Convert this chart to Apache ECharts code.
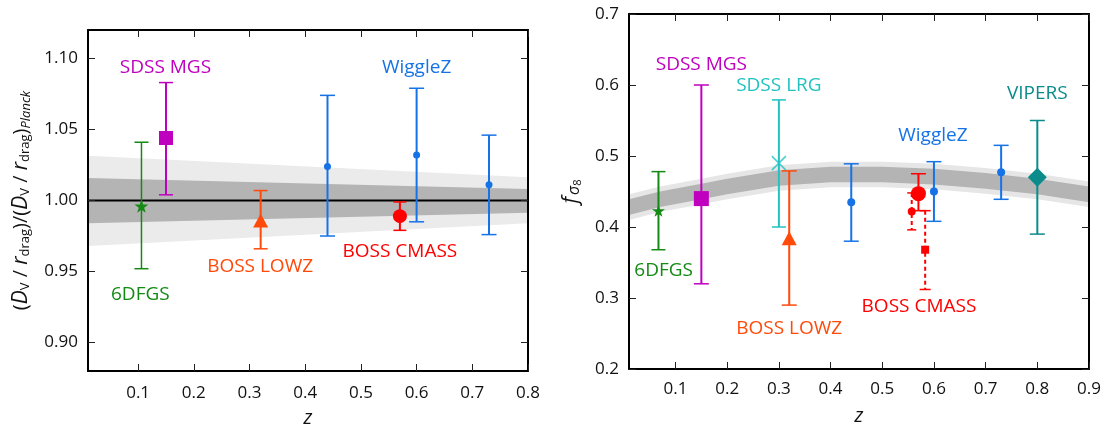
<!DOCTYPE html>
<html><head><meta charset="utf-8">
<script src="https://cdn.jsdelivr.net/npm/echarts@6/dist/echarts.min.js"></script>
<style>html,body{margin:0;padding:0;background:#fff}#c{width:1101px;height:426px}</style>
</head><body><div id="c"></div>
<script>
// ================= LEFT PANEL: BAO distance ratio =================
const baoKind  = ['6DFGS','SDSS MGS','BOSS LOWZ','WiggleZ','WiggleZ','WiggleZ','BOSS CMASS'];
const baoZ     = [0.106, 0.150, 0.320, 0.440, 0.600, 0.730, 0.570];
const baoVal   = [0.996, 1.044, 0.986, 1.024, 1.032, 1.011, 0.989];
const baoLow   = [0.952, 1.004, 0.966, 0.975, 0.985, 0.976, 0.979];
const baoHigh  = [1.041, 1.083, 1.007, 1.074, 1.079, 1.046, 0.999];
const baoBandZ    = [0.01, 0.80];
const baoLightHi  = [1.0315, 1.0163];
const baoLightLo  = [0.9680, 0.9840];
const baoDarkHi   = [1.0158, 1.0081];
const baoDarkLo   = [0.9840, 0.9914];
const baoRefZ  = [0.01, 0.80];
const baoRefY  = [1.00, 1.00];
const baoXTicks = [0.1, 0.2, 0.3, 0.4, 0.5, 0.6, 0.7, 0.8];
const baoYTicks = [0.90, 0.95, 1.00, 1.05, 1.10];
const baoLabels = ['SDSS MGS','WiggleZ','6DFGS','BOSS LOWZ','BOSS CMASS'];
const baoLabelZ = [0.149, 0.600, 0.104, 0.319, 0.570];
const baoLabelY = [1.0935, 1.0935, 0.9338, 0.9535, 0.9640];

// ================= RIGHT PANEL: f sigma8 =================
const rsdKind  = ['6DFGS','SDSS MGS','SDSS LRG','BOSS LOWZ','WiggleZ','WiggleZ','WiggleZ','VIPERS','BOSS CMASS','CMASS alt1','CMASS alt2'];
const rsdZ     = [0.067, 0.150, 0.300, 0.320, 0.440, 0.600, 0.730, 0.800, 0.570, 0.557, 0.583];
const rsdVal   = [0.423, 0.440, 0.490, 0.384, 0.435, 0.450, 0.477, 0.470, 0.447, 0.422, 0.368];
const rsdLow   = [0.368, 0.320, 0.400, 0.290, 0.380, 0.408, 0.439, 0.390, 0.423, 0.396, 0.312];
const rsdHigh  = [0.478, 0.600, 0.579, 0.479, 0.489, 0.492, 0.515, 0.550, 0.475, 0.448, 0.423];
const rsdBandZ   = [0.01, 0.07, 0.15, 0.20, 0.30, 0.40, 0.50, 0.60, 0.70, 0.80, 0.90];
const rsdLightHi = [0.446, 0.457, 0.468, 0.475, 0.487, 0.492, 0.492, 0.489, 0.483, 0.475, 0.464];
const rsdLightLo = [0.410, 0.421, 0.432, 0.439, 0.451, 0.456, 0.456, 0.453, 0.447, 0.439, 0.428];
const rsdDarkHi  = [0.439, 0.450, 0.461, 0.468, 0.480, 0.485, 0.485, 0.482, 0.476, 0.468, 0.457];
const rsdDarkLo  = [0.417, 0.428, 0.439, 0.446, 0.458, 0.463, 0.463, 0.460, 0.454, 0.446, 0.435];
const rsdXTicks = [0.1, 0.2, 0.3, 0.4, 0.5, 0.6, 0.7, 0.8, 0.9];
const rsdYTicks = [0.2, 0.3, 0.4, 0.5, 0.6, 0.7];
const rsdLabels = ['SDSS MGS','SDSS LRG','WiggleZ','VIPERS','6DFGS','BOSS LOWZ','BOSS CMASS'];
const rsdLabelZ = [0.150, 0.300, 0.598, 0.800, 0.077, 0.320, 0.571];
const rsdLabelY = [0.629, 0.599, 0.529, 0.588, 0.338, 0.257, 0.288];

// ================= styles =================
const FONT = 'Open Sans';
function starPath() {
  let d = '';
  for (let k = 0; k < 10; k++) {
    const r = k % 2 ? 0.382 : 1;
    const a = -Math.PI / 2 + k * Math.PI / 5;
    d += (k ? 'L' : 'M') + (10 + 10 * r * Math.cos(a)).toFixed(2) + ' ' + (10 + 10 * r * Math.sin(a)).toFixed(2) + ' ';
  }
  return 'path://' + d + 'Z';
}
const STAR = starPath();
const XMARK = 'path://M0 0L10 10M10 0L0 10';
const C = {
  '6DFGS': '#138a13', 'SDSS MGS': '#bf00bf', 'BOSS LOWZ': '#ff4a0a', 'WiggleZ': '#1673e6',
  'BOSS CMASS': '#ff0000', 'SDSS LRG': '#22c2c2', 'VIPERS': '#0b8b8b'
};
const baoStyle = {
  '6DFGS':      {color: C['6DFGS'], symbol: STAR, size: 14, lw: 1.5, cap: 14},
  'SDSS MGS':   {color: C['SDSS MGS'], symbol: 'rect', size: 14, lw: 2, cap: 14},
  'BOSS LOWZ':  {color: C['BOSS LOWZ'], symbol: 'triangle', size: [15, 14], lw: 2, cap: 14},
  'WiggleZ':    {color: C['WiggleZ'], symbol: 'circle', size: 7, lw: 2, cap: 15},
  'BOSS CMASS': {color: C['BOSS CMASS'], symbol: 'circle', size: 14, lw: 2, cap: 13}
};
const rsdStyle = {
  '6DFGS':      {color: C['6DFGS'], symbol: STAR, size: 13, lw: 2, cap: 14},
  'SDSS MGS':   {color: C['SDSS MGS'], symbol: 'rect', size: 15, lw: 2, cap: 15},
  'SDSS LRG':   {color: C['SDSS LRG'], symbol: XMARK, size: 14, lw: 2, cap: 14, stroke: true},
  'BOSS LOWZ':  {color: C['BOSS LOWZ'], symbol: 'triangle', size: [15, 14], lw: 2, cap: 15},
  'WiggleZ':    {color: C['WiggleZ'], symbol: 'circle', size: 8, lw: 2, cap: 15},
  'VIPERS':     {color: C['VIPERS'], symbol: 'diamond', size: 19, lw: 2, cap: 15},
  'BOSS CMASS': {color: C['BOSS CMASS'], symbol: 'circle', size: 15, lw: 2, cap: 15},
  'CMASS alt1': {color: C['BOSS CMASS'], symbol: 'circle', size: 8, lw: 2, cap: 9, dash: [4, 3]},
  'CMASS alt2': {color: C['BOSS CMASS'], symbol: 'rect', size: 8, lw: 2, cap: 11, dash: [4, 3]}
};

// ================= builders =================
function bandSeries(ai, zs, hi, lo, color, zz) {
  return {
    type: 'custom', xAxisIndex: ai, yAxisIndex: ai, clip: true, silent: true, z: zz,
    data: [[zs[0], hi[0]]],
    renderItem: (params, api) => {
      const pts = [];
      for (let k = 0; k < zs.length; k++) pts.push(api.coord([zs[k], hi[k]]));
      for (let k = zs.length - 1; k >= 0; k--) pts.push(api.coord([zs[k], lo[k]]));
      return {type: 'polygon', shape: {points: pts}, style: {fill: color}};
    }
  };
}
function errSeries(ai, zs, lo, hi, kinds, styles) {
  return {
    type: 'custom', xAxisIndex: ai, yAxisIndex: ai, clip: true, silent: true, z: 3,
    data: zs.map((z, i) => [z, lo[i], hi[i], i]),
    encode: {x: 0, y: [1, 2]},
    renderItem: (params, api) => {
      const st = styles[kinds[api.value(3)]];
      const t = api.coord([api.value(0), api.value(2)]);
      const b = api.coord([api.value(0), api.value(1)]);
      const h = st.cap / 2;
      const ls = {stroke: st.color, lineWidth: st.lw, fill: null, lineDash: st.dash || null};
      const cs = {stroke: st.color, lineWidth: 1.5, fill: null};
      return {type: 'group', children: [
        {type: 'line', shape: {x1: t[0], y1: t[1], x2: b[0], y2: b[1]}, style: ls},
        {type: 'line', shape: {x1: t[0] - h, y1: t[1], x2: t[0] + h, y2: t[1]}, style: cs},
        {type: 'line', shape: {x1: b[0] - h, y1: b[1], x2: b[0] + h, y2: b[1]}, style: cs}
      ]};
    }
  };
}
function markerSeries(ai, zs, vals, kinds, styles) {
  return zs.map((z, i) => {
    const st = styles[kinds[i]];
    return {
      type: 'scatter', xAxisIndex: ai, yAxisIndex: ai, z: 4, silent: true,
      symbol: st.symbol, symbolSize: st.size, symbolKeepAspect: true,
      itemStyle: st.stroke ? {color: 'rgba(0,0,0,0)', borderColor: st.color, borderWidth: 1.6} : {color: st.color, opacity: 1},
      data: [[z, vals[i]]]
    };
  });
}
function labelSeries(ai, names, zs, ys) {
  return {
    type: 'custom', xAxisIndex: ai, yAxisIndex: ai, silent: true, z: 5,
    data: zs.map((z, i) => [z, ys[i], i]),
    renderItem: (params, api) => {
      const p = api.coord([api.value(0), api.value(1)]);
      const n = names[api.value(2)];
      return {type: 'text', x: p[0], y: p[1], style: {text: n, fill: C[n], font: '19px "' + FONT + '"', align: 'center', verticalAlign: 'middle'}};
    }
  };
}
function xAx(grid, pos, min, max, ticks, labels, name, margin) {
  return {
    type: 'value', gridIndex: grid, position: pos, min: min, max: max, z: 10,
    axisLine: {show: true, onZero: false, lineStyle: {color: '#000', width: 2}},
    axisTick: {show: true, inside: true, length: 7, customValues: ticks, lineStyle: {color: '#222', width: 1}},
    axisLabel: {show: labels, customValues: ticks, margin: margin || 14, fontSize: 17, fontFamily: FONT, color: '#111', formatter: v => v.toFixed(1)},
    splitLine: {show: false},
    name: name || '', nameLocation: 'middle', nameGap: 37,
    nameTextStyle: {fontSize: 20, fontStyle: 'italic', fontFamily: FONT, color: '#111'}
  };
}
function yAx(grid, pos, min, max, ticks, labels, digits, name, nameGap, rich) {
  return {
    type: 'value', gridIndex: grid, position: pos, min: min, max: max, z: 10,
    axisLine: {show: true, onZero: false, lineStyle: {color: '#000', width: 2}},
    axisTick: {show: true, inside: true, length: 7, customValues: ticks, lineStyle: {color: '#222', width: 1}},
    axisLabel: {show: labels, customValues: ticks, margin: 10, fontSize: 17, fontFamily: FONT, color: '#111', formatter: v => v.toFixed(digits)},
    splitLine: {show: false},
    name: name || '', nameLocation: 'middle', nameGap: nameGap || 40,
    nameTextStyle: {fontFamily: FONT, color: '#111', rich: rich || {}}
  };
}

const yRichL = {
  n:  {fontSize: 20, fontFamily: FONT, color: '#111'},
  i:  {fontSize: 21, fontStyle: 'italic', fontFamily: FONT, color: '#111'},
  s:  {fontSize: 13, fontFamily: FONT, color: '#111', padding: [9, 0, 0, 0]},
  si: {fontSize: 13, fontStyle: 'italic', fontFamily: FONT, color: '#111', padding: [11, 0, 0, 0]}
};
const yNameL = '{n|(}{i|D}{s|V}{n| / }{i|r}{s|drag}{n|)/(}{i|D}{s|V}{n| / }{i|r}{s|drag}{n|)}{si|Planck}';
const yRichR = {
  f: {fontSize: 21, fontStyle: 'italic', fontFamily: FONT, color: '#111'},
  s: {fontSize: 16, fontStyle: 'italic', fontFamily: FONT, color: '#111', padding: [6, 0, 0, 2]},
  e: {fontSize: 11, fontFamily: FONT, color: '#111', padding: [12, 0, 0, 0]}
};
const yNameR = '{f|f}{s|σ}{e|8}';

const option = {
  animation: false,
  backgroundColor: '#fff',
  grid: [
    {left: 88, top: 30, width: 440, height: 341, containLabel: false, outerBoundsMode: 'none'},
    {left: 629, top: 14, width: 460, height: 355, containLabel: false, outerBoundsMode: 'none'}
  ],
  xAxis: [
    xAx(0, 'bottom', 0.01, 0.8, baoXTicks, true, 'z', 14),
    xAx(1, 'bottom', 0.01, 0.9, rsdXTicks, true, 'z', 12),
    xAx(0, 'top', 0.01, 0.8, baoXTicks, false),
    xAx(1, 'top', 0.01, 0.9, rsdXTicks, false)
  ],
  yAxis: [
    yAx(0, 'left', 0.88, 1.12, baoYTicks, true, 2, yNameL, 55, yRichL),
    yAx(1, 'left', 0.2, 0.7, rsdYTicks, true, 1, yNameR, 46, yRichR),
    yAx(0, 'right', 0.88, 1.12, baoYTicks, false, 2),
    yAx(1, 'right', 0.2, 0.7, rsdYTicks, false, 1)
  ],
  series: [
    bandSeries(0, baoBandZ, baoLightHi, baoLightLo, '#ebebeb', 1),
    bandSeries(0, baoBandZ, baoDarkHi, baoDarkLo, '#b4b4b4', 1.5),
    {type: 'line', xAxisIndex: 0, yAxisIndex: 0, z: 2, silent: true, symbol: 'none',
     lineStyle: {color: '#000', width: 2}, data: baoRefZ.map((z, i) => [z, baoRefY[i]])},
    errSeries(0, baoZ, baoLow, baoHigh, baoKind, baoStyle),
    ...markerSeries(0, baoZ, baoVal, baoKind, baoStyle),
    labelSeries(0, baoLabels, baoLabelZ, baoLabelY),

    bandSeries(1, rsdBandZ, rsdLightHi, rsdLightLo, '#e6e6e6', 1),
    bandSeries(1, rsdBandZ, rsdDarkHi, rsdDarkLo, '#b4b4b4', 1.5),
    errSeries(1, rsdZ, rsdLow, rsdHigh, rsdKind, rsdStyle),
    ...markerSeries(1, rsdZ, rsdVal, rsdKind, rsdStyle),
    labelSeries(1, rsdLabels, rsdLabelZ, rsdLabelY)
  ]
};
const chart = echarts.init(document.getElementById('c'), null, {renderer: 'canvas'});
chart.setOption(option);
</script>
</body></html>
